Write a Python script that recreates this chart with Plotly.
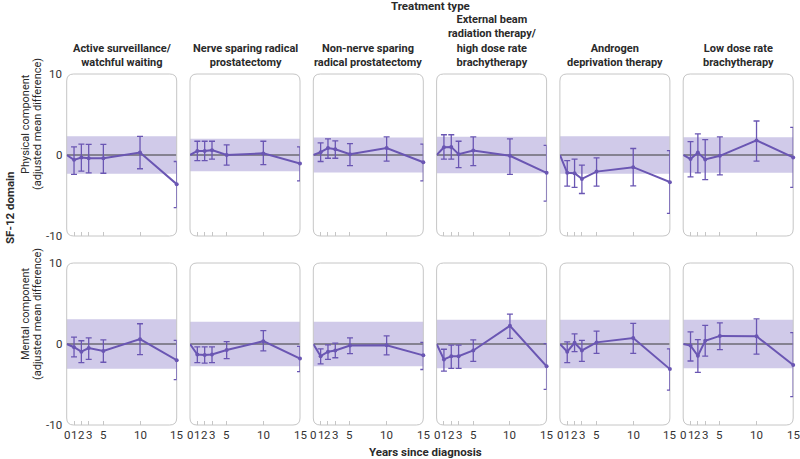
import plotly.graph_objects as go

years = [0, 1, 2, 3, 5, 10, 15]
treatments = [
    ["Active surveillance/", "watchful waiting"],
    ["Nerve sparing radical", "prostatectomy"],
    ["Non-nerve sparing", "radical prostatectomy"],
    ["External beam", "radiation therapy/", "high dose rate", "brachytherapy"],
    ["Androgen", "deprivation therapy"],
    ["Low dose rate", "brachytherapy"],
]
row_labels = [["Physical component", "(adjusted mean difference)"],
              ["Mental component", "(adjusted mean difference)"]]

# Physical component: mean, upper CI, lower CI (years 0..15)
phys_mean = [
    [0, -0.6, -0.3, -0.4, -0.4, 0.3, -3.6],
    [0, 0.5, 0.5, 0.6, 0.0, 0.2, -1.05],
    [0, 0.35, 0.85, 0.7, 0.1, 0.85, -0.9],
    [0, 0.95, 1.0, 0.1, 0.55, -0.1, -2.2],
    [0, -2.2, -2.25, -2.95, -2.05, -1.5, -3.35],
    [0, -0.5, 0.3, -0.55, -0.1, 1.8, -0.3],
]
phys_hi = [
    [0, 1.0, 1.35, 1.3, 1.3, 2.3, -0.8],
    [0, 1.7, 1.7, 1.7, 1.25, 1.7, 1.0],
    [0, 1.5, 2.0, 1.75, 1.4, 2.25, 1.35],
    [0, 2.5, 2.5, 1.7, 2.25, 2.0, 1.2],
    [0, -0.7, -0.5, -1.25, -0.35, 0.8, 0.55],
    [0, 1.65, 2.6, 1.9, 2.25, 4.2, 3.4],
]
phys_lo = [
    [0, -2.4, -2.0, -2.2, -2.25, -1.7, -6.5],
    [0, -0.7, -0.7, -0.5, -1.25, -1.2, -3.2],
    [0, -0.8, -0.4, -0.4, -1.3, -0.75, -3.2],
    [0, -0.5, -0.5, -1.55, -1.3, -2.4, -5.7],
    [0, -3.85, -4.0, -4.75, -3.85, -3.8, -7.2],
    [0, -2.7, -2.2, -3.05, -2.45, -0.75, -4.0],
]
# Mental component
ment_mean = [
    [0, -0.4, -0.95, -0.5, -0.85, 0.6, -2.0],
    [0, -1.3, -1.35, -1.3, -0.75, 0.35, -1.8],
    [0, -1.5, -0.95, -0.8, -0.2, -0.15, -1.4],
    [0, -1.9, -1.5, -1.5, -0.8, 2.25, -2.75],
    [0, -0.95, 0.15, -0.8, 0.2, 0.75, -3.1],
    [0, -0.2, -1.45, 0.4, 1.0, 0.95, -2.6],
]
ment_hi = [
    [0, 0.85, 0.4, 0.75, 0.5, 2.5, 0.45],
    [0, -0.35, -0.35, -0.35, 0.3, 1.65, -0.3],
    [0, -0.6, -0.1, 0.1, 0.75, 1.0, 0.2],
    [0, -0.65, -0.15, -0.15, 0.5, 3.7, 0.05],
    [0, 0.25, 1.25, 0.45, 1.6, 2.55, -0.6],
    [0, 1.5, 0.55, 2.3, 2.6, 3.1, 1.4],
]
ment_lo = [
    [0, -1.6, -2.3, -1.9, -2.25, -1.3, -4.4],
    [0, -2.3, -2.35, -2.3, -1.8, -0.85, -3.4],
    [0, -2.45, -1.9, -1.7, -1.2, -1.35, -3.15],
    [0, -3.35, -3.0, -3.0, -2.15, 0.7, -5.6],
    [0, -2.3, -0.95, -2.15, -1.15, -1.15, -5.7],
    [0, -2.1, -3.5, -1.5, -0.7, -1.25, -6.5],
]
# half-width of shaded band
phys_band = [2.3, 2.0, 2.15, 2.25, 2.3, 2.2]
ment_band = [3.05, 2.75, 2.75, 3.0, 3.0, 3.0]

y_ticks = [10, 0, -10]
x_tickvals = [0, 1, 2, 3, 5, 10, 15]
x_ticktext = ["0", "1", "2", "3", "5", "10", "15"]

LINE = "#6a56b3"
BAND = "rgba(170,158,215,0.55)"
BOX = "#c6c6c6"
FONT = "Roboto, sans-serif"
TXT = "#2a2a2a"

W, H = 800, 459
ML, MR, MT, MB = 66, 6, 74, 34
PW, PH = W - ML - MR, H - MT - MB
col_left = [66.7 + 123.3 * i for i in range(6)]
panel_w = 110
row_top = [74, 263]
panel_h = 162

fig = go.Figure()
layout = {}
shapes = []
annotations = []

def clamp(v):
    return min(1.0, max(0.0, v))

def px_to_paper_x(px):
    return (px - ML) / PW

def px_to_paper_y(py):
    return (H - MB - py) / PH

def text_px(txt, x, y, size=11, angle=0, bold=False, yanchor="middle"):
    annotations.append(dict(
        x=px_to_paper_x(x), y=px_to_paper_y(y), xref="paper", yref="paper",
        text=("<b>%s</b>" % txt) if bold else txt, textangle=angle, showarrow=False,
        xanchor="center", yanchor=yanchor,
        font=dict(family=FONT, size=size, color=TXT)))

datasets = [(phys_mean, phys_hi, phys_lo, phys_band),
            (ment_mean, ment_hi, ment_lo, ment_band)]

idx = 0
for r in range(2):
    mean, hi, lo, band = datasets[r]
    for c in range(6):
        idx += 1
        sfx = "" if idx == 1 else str(idx)
        xa, ya = "x" + sfx, "y" + sfx
        x0p = clamp(px_to_paper_x(col_left[c]))
        x1p = clamp(px_to_paper_x(col_left[c] + panel_w))
        y1p = clamp(px_to_paper_y(row_top[r]))
        y0p = clamp(px_to_paper_y(row_top[r] + panel_h))
        err_plus = [h - m for h, m in zip(hi[c], mean[c])]
        err_minus = [m - l for m, l in zip(mean[c], lo[c])]
        fig.add_trace(go.Scatter(
            x=years, y=mean[c], xaxis=xa, yaxis=ya, mode="lines",
            line=dict(color=LINE, width=2), showlegend=False, hoverinfo="skip",
            cliponaxis=False))
        fig.add_trace(go.Scatter(
            x=years[1:], y=mean[c][1:], xaxis=xa, yaxis=ya, mode="markers",
            marker=dict(size=4, color=LINE),
            error_y=dict(type="data", symmetric=False, array=err_plus[1:],
                         arrayminus=err_minus[1:], color=LINE, thickness=1.3, width=3),
            showlegend=False, hoverinfo="skip", cliponaxis=False))
        layout["xaxis" + sfx] = dict(
            domain=[x0p, x1p], anchor=ya, range=[0, 15], showgrid=False, zeroline=False,
            showline=False, tickmode="array", tickvals=x_tickvals[1:-1],
            ticks="inside", ticklen=4, tickcolor=BOX, tickwidth=1,
            showticklabels=False)
        layout["yaxis" + sfx] = dict(
            domain=[y0p, y1p], anchor=xa, range=[-10, 10], showgrid=False, zeroline=False,
            showline=False, showticklabels=False, ticks="")
        shapes.append(dict(type="rect", xref=xa + " domain", yref=ya, x0=0, x1=1,
                           y0=-band[c], y1=band[c], fillcolor=BAND, line=dict(width=0),
                           layer="below"))
        shapes.append(dict(type="line", xref=xa + " domain", yref=ya, x0=0, x1=1,
                           y0=0, y1=0, line=dict(color="#3a3a3a", width=1.2), layer="below"))
        rx, ry = 7 / PW, 7 / PH
        path = (f"M {x0p+rx},{y0p} L {x1p-rx},{y0p} Q {x1p},{y0p} {x1p},{y0p+ry} "
                f"L {x1p},{y1p-ry} Q {x1p},{y1p} {x1p-rx},{y1p} "
                f"L {x0p+rx},{y1p} Q {x0p},{y1p} {x0p},{y1p-ry} "
                f"L {x0p},{y0p+ry} Q {x0p},{y0p} {x0p+rx},{y0p} Z")
        shapes.append(dict(type="path", xref="paper", yref="paper", path=path,
                           line=dict(color=BOX, width=1), fillcolor="rgba(0,0,0,0)",
                           layer="below"))
        if r == 1:
            for xv, xt in zip(x_tickvals, x_ticktext):
                annotations.append(dict(
                    x=xv, y=-10, xref=xa, yref=ya, text=xt, showarrow=False,
                    xanchor="center", yanchor="top", yshift=-1,
                    font=dict(family=FONT, size=11.5, color="#333333")))
        if c == 0:
            for yv in y_ticks:
                annotations.append(dict(
                    x=0, y=yv, xref=xa, yref=ya, text=str(yv), showarrow=False,
                    xanchor="right", yanchor="middle", xshift=-3,
                    font=dict(family=FONT, size=11.5, color="#333333")))
        if r == 0:
            cx = col_left[c] + panel_w / 2
            text_px("<br>".join(treatments[c]), cx, 71, size=11, bold=True,
                    yanchor="bottom")

# row labels
text_px(row_labels[0][0], 25, 124, size=11, angle=-90)
text_px(row_labels[0][1], 37, 124, size=11, angle=-90)
text_px(row_labels[1][0], 25, 314, size=11, angle=-90)
text_px(row_labels[1][1], 37, 314, size=11, angle=-90)
text_px("SF-12 domain", 10, 208, size=11.5, angle=-90, bold=True)
text_px("Treatment type", 430, 6, size=11.5, bold=True)
text_px("Years since diagnosis", 425, 452, size=11.5, bold=True)

fig.update_layout(
    width=W, height=H, margin=dict(l=ML, r=MR, t=MT, b=MB),
    paper_bgcolor="white", plot_bgcolor="white",
    shapes=shapes, annotations=annotations, **layout)
fig.write_html("out.html", config={"displayModeBar": False},
               post_script="document.body.style.margin='0px';")
